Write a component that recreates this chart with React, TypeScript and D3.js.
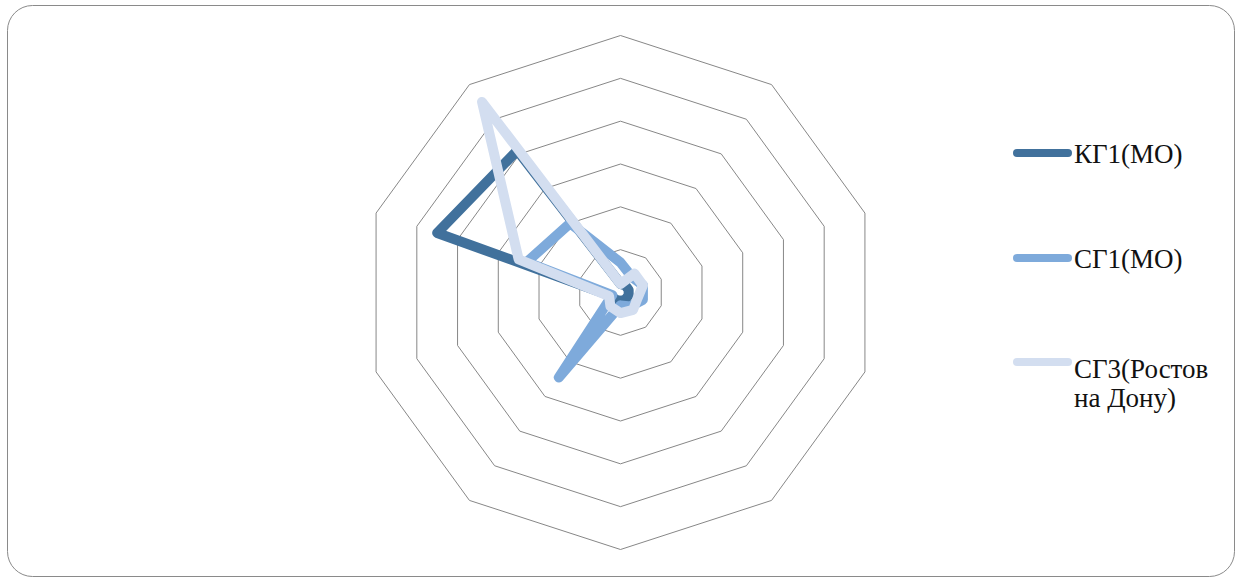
import React from "react";
import * as d3 from "d3";

// Radar axes (category labels are not shown on the chart)
const categories = ["1", "2", "3", "4", "5", "6", "7", "8", "9", "10"];

// Series values, one per axis, clockwise from the top
const kg1 = [2, 2, 2, 2, 2, 2, 2, 2.4, 45, 41];
const sg1 = [7, 4.5, 5.5, 5.5, 4, 3, 24.5, 2, 23, 20];
const sg3 = [2, 5.5, 5.5, 4.2, 5, 4.8, 4, 2.8, 25, 55];

const seriesNames = ["КГ1(МО)", "СГ1(МО)", "СГ3(Ростов на Дону)"];
const seriesColors = ["#41719c", "#7eaadb", "#d3def0"];

// Value axis ticks (rings)
const ringTicks = [10, 20, 30, 40, 50, 60];

const W = 1238;
const H = 578;
const cx = 620.5;
const cy = 292.5;
const R = 257;

export default function App() {
  const r = d3.scaleLinear().domain([0, 60]).range([0, R]);
  const angle = (i: number) => (i * 2 * Math.PI) / categories.length;

  const ring = d3
    .lineRadial<string>()
    .angle((_, i) => angle(i))
    .radius(0)
    .curve(d3.curveLinearClosed);

  const seriesLine = d3
    .lineRadial<number>()
    .angle((_, i) => angle(i))
    .radius((d) => r(d))
    .curve(d3.curveLinearClosed);

  const series = [kg1, sg1, sg3];

  const legendRows = [
    { y: 153, lines: ["КГ1(МО)"], base: 163 },
    { y: 258, lines: ["СГ1(МО)"], base: 268 },
    { y: 362, lines: ["СГ3(Ростов", "на Дону)"], base: 378 },
  ];

  return (
    <svg
      width={W}
      height={H}
      style={{ position: "absolute", left: 0, top: 0, background: "#fff" }}
    >
      <rect
        x={7.5}
        y={5.5}
        width={1227}
        height={571}
        rx={25}
        ry={25}
        fill="#fff"
        stroke="#8a8a8a"
        strokeWidth={1}
      />
      <g transform={`translate(${cx},${cy})`}>
        {ringTicks.map((t) => (
          <path
            key={t}
            d={ring.radius(r(t))(categories) || ""}
            fill="none"
            stroke="#878787"
            strokeWidth={1}
          />
        ))}
        {series.map((s, k) => (
          <path
            key={k}
            d={seriesLine(s) || ""}
            fill="none"
            stroke={seriesColors[k]}
            strokeWidth={10}
            strokeLinejoin="round"
            strokeLinecap="round"
          />
        ))}
      </g>
      <g fontFamily="'Liberation Serif', 'Times New Roman', serif" fontSize={27} fill="#111">
        {legendRows.map((row, k) => (
          <g key={k}>
            <line
              x1={1017}
              x2={1068}
              y1={row.y}
              y2={row.y}
              stroke={seriesColors[k]}
              strokeWidth={8}
              strokeLinecap="round"
            />
            {row.lines.map((ln, j) => (
              <text key={j} x={1074} y={row.base + j * 28.5}>
                {ln}
              </text>
            ))}
          </g>
        ))}
      </g>
    </svg>
  );
}
